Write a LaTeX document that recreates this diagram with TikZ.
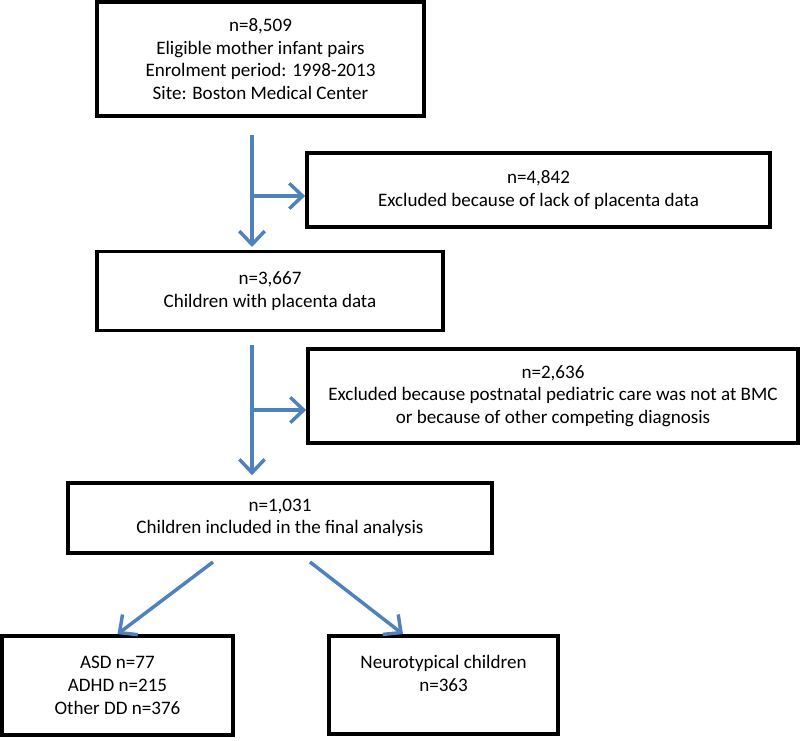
\documentclass[tikz,border=0pt]{standalone}
\usepackage{fontspec}
\setmainfont{Carlito}
\usetikzlibrary{arrows.meta}
\definecolor{flowblue}{RGB}{79,129,189}

\begin{document}
\begin{tikzpicture}[x=0.75pt,y=-0.75pt,
                box/.style={draw=black,line width=2.8pt,align=center,inner sep=0pt,font=\fontsize{14.3}{17}\selectfont},
                flow/.style={draw=flowblue,line width=2.6pt,-{Straight Barb[length=10pt,width=19pt,line width=2.6pt]}}]
                \useasboundingbox (0,0) rectangle (800,740);
                \node[box,minimum width=245.25pt,minimum height=85.5pt](eligible)at(260.5, 59){n=8,509\\Eligible mother infant pairs\\Enrolment period: 1998-2013\\Site: Boston Medical Center};
                \node[box,minimum width=347.25pt,minimum height=55.5pt](excl1)at(538.5, 190){n=4,842\\Excluded because of lack of placenta data};
                \node[box,minimum width=259.5pt,minimum height=59.25pt](placenta)at(270, 291){n=3,667\\Children with placenta data};
                \node[box,minimum width=367.5pt,minimum height=70.5pt](excl2)at(553, 396){n=2,636\\Excluded because postnatal pediatric care was not at BMC\\or because of other competing diagnosis};
                \node[box,minimum width=318pt,minimum height=52.5pt](final)at(280, 518){n=1,031\\Children included in the final analysis};
                \node[box,minimum width=173.25pt,minimum height=74.25pt](asd)at(117.5, 685.5){ASD n=77\\ADHD n=215\\Other DD n=376};
                \node[box,minimum width=171.75pt,minimum height=73.5pt](neuro)at(443.5, 685){Neurotypical children\\n=363\\\mbox{}};

                % main flow and exclusions
                \coordinate (d1) at (252, 135);
                \coordinate (b1) at (252, 196);
                \coordinate (d2) at (252, 345);
                \coordinate (b2) at (252, 410);
                \draw[flow,shorten >=2pt] (d1) -- (d1 |- placenta.north);
                \draw[flow] (b1) -- (b1 -| excl1.west);
                \draw[flow,shorten >=4.5pt] (d2) -- (d2 |- final.north);
                \draw[flow] (b2) -- (b2 -| excl2.west);

                % split into groups
                \coordinate (s1) at (213, 562);
                \coordinate (s2) at (310, 562);
                \draw[flow] (s1) -- (asd.north);
                \draw[flow] (s2) -- ([xshift=-30.4pt]neuro.north);
            \end{tikzpicture}
\end{document}
